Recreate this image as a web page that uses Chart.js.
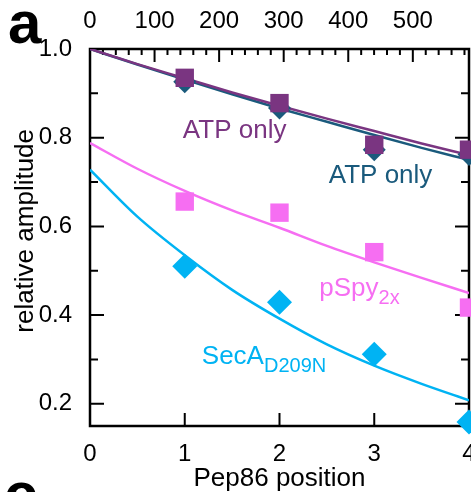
<!DOCTYPE html>
<html>
<head>
<meta charset="utf-8">
<script src="https://cdn.jsdelivr.net/npm/chart.js@4/dist/chart.umd.min.js"></script>
<style>
  html, body { margin: 0; padding: 0; background: #fff; }
  #wrap { width: 471px; height: 492px; position: relative; }
</style>
</head>
<body>
<div id="wrap"><canvas id="chart"></canvas></div>
<script>
// measured positions (Pep86 position)
const positions = [1, 2, 3, 4];
const atpSpy = [0.935, 0.878, 0.784, 0.773];      // ATP only (purple squares)
const atpSecA = [0.926, 0.867, 0.773, 0.762];     // ATP only (teal diamonds)
const pSpy = [0.656, 0.631, 0.542, 0.417];
const secA = [0.51, 0.429, 0.312, 0.159];

const fitX = [0, 0.5, 1, 1.5, 2, 2.5, 3, 3.5, 4];
const atpSpyFit = [1.0, 0.966, 0.934, 0.902, 0.872, 0.843, 0.815, 0.787, 0.761];
const atpSecAFit = [1.0, 0.965, 0.931, 0.898, 0.866, 0.836, 0.806, 0.777, 0.75];
const pSpyFit = [0.788, 0.73, 0.68, 0.636, 0.597, 0.556, 0.519, 0.484, 0.45];
const secAFit = [0.728, 0.622, 0.535, 0.457, 0.392, 0.334, 0.286, 0.245, 0.208];

const purple = "#7a3581";
const teal = "#1a5a7c";
const pink = "#f66ef2";
const cyan = "#00b3f3";
const FONT = "'Liberation Sans', Arial, Helvetica, sans-serif";

function pts(xs, ys) {
    return xs.map((x, i) => ({x: x, y: ys[i]}));
}

function fitLine(ys, color, order) {
    return {
        type: "line",
        data: pts(fitX, ys),
        borderColor: color,
        borderWidth: 2.5,
        pointRadius: 0,
        cubicInterpolationMode: "monotone",
        fill: false,
        order: order
    };
}

function markers(ys, color, style, radius, order) {
    return {
        type: "line",
        data: pts(positions, ys),
        showLine: false,
        pointStyle: style,
        pointRadius: radius,
        pointBackgroundColor: color,
        pointBorderColor: color,
        pointBorderWidth: 0,
        clip: false,
        order: order
    };
}

// no extra label padding inside the scales
function noPad(s) {
    s.paddingLeft = 0;
    s.paddingRight = 0;
    s.paddingTop = 0;
    s.paddingBottom = 0;
}

// frame, inward ticks, y title and in-plot labels
const decorations = {
    id: "decorations",
    beforeDatasetsDraw(chart) {
        const ctx = chart.ctx;
        const a = chart.chartArea;
        const x = chart.scales.x, y = chart.scales.y, x2 = chart.scales.x2;
        ctx.save();
        ctx.strokeStyle = "#000";
        ctx.lineWidth = 2.5;
        ctx.strokeRect(a.left, a.top, a.right - a.left, a.bottom - a.top);
        ctx.lineWidth = 2;
        ctx.beginPath();
        // left + right ticks
        for (let v = 2; v <= 10; v++) {
            const py = y.getPixelForValue(v / 10);
            const len = v % 2 === 0 ? 14 : 8;
            ctx.moveTo(a.left, py); ctx.lineTo(a.left + len, py);
            ctx.moveTo(a.right, py); ctx.lineTo(a.right - len, py);
        }
        // bottom ticks
        for (let v = 1; v <= 3; v++) {
            const px = x.getPixelForValue(v);
            ctx.moveTo(px, a.bottom); ctx.lineTo(px, a.bottom - 13);
        }
        // top ticks
        for (let v = 20; v <= 580; v += 20) {
            const px = x2.getPixelForValue(v);
            const len = v % 100 === 0 ? 13 : 6;
            ctx.moveTo(px, a.top); ctx.lineTo(px, a.top + len);
        }
        ctx.stroke();
        ctx.restore();
    },
    afterDraw(chart) {
        const ctx = chart.ctx;
        const x = chart.scales.x, y = chart.scales.y;
        ctx.save();
        ctx.textBaseline = "alphabetic";
        ctx.textAlign = "left";

        function label(text, sub, dx, dy, color) {
            const px = x.getPixelForValue(dx);
            const py = y.getPixelForValue(dy);
            ctx.fillStyle = color;
            ctx.font = "26px " + FONT;
            ctx.fillText(text, px, py);
            if (sub) {
                const w = ctx.measureText(text).width;
                ctx.font = "20px " + FONT;
                ctx.fillText(sub, px + w, py + 8);
            }
        }
        label("ATP only", null, 0.98, 0.8, purple);
        label("ATP only", null, 2.52, 0.699, teal);
        label("pSpy", "2x", 2.42, 0.442, pink);
        label("SecA", "D209N", 1.18, 0.289, cyan);

        // y axis title
        ctx.save();
        ctx.translate(33, y.getPixelForValue(0.59));
        ctx.rotate(-Math.PI / 2);
        ctx.textAlign = "center";
        ctx.fillStyle = "#000";
        ctx.font = "26px " + FONT;
        ctx.fillText("relative amplitude", 0, 0);
        ctx.restore();

        // panel letters
        ctx.fillStyle = "#000";
        ctx.font = "bold 60px " + FONT;
        ctx.fillText("a", 8, 43);
        ctx.fillText("c", 4, 514);
        ctx.restore();
    }
};

new Chart(document.getElementById("chart"), {
    data: {
        datasets: [
            markers(atpSpy, purple, "rect", 13, 1),
            markers(atpSecA, teal, "rectRot", 11.5, 2),
            markers(pSpy, pink, "rect", 13, 3),
            markers(secA, cyan, "rectRot", 12.5, 4),
            fitLine(atpSpyFit, purple, 5),
            fitLine(atpSecAFit, teal, 6),
            fitLine(pSpyFit, pink, 7),
            fitLine(secAFit, cyan, 8)
        ]
    },
    options: {
        responsive: true,
        maintainAspectRatio: false,
        animation: false,
        layout: { autoPadding: false, padding: { left: 0, right: 2, top: 0, bottom: 0 } },
        plugins: {
            legend: { display: false },
            tooltip: { enabled: false }
        },
        scales: {
            x: {
                type: "linear",
                position: "bottom",
                min: 0,
                max: 4,
                grid: { display: false },
                border: { display: false },
                ticks: {
                    stepSize: 1,
                    padding: 6,
                    color: "#000",
                    font: { family: FONT, size: 24 }
                },
                title: {
                    display: true,
                    text: "Pep86 position",
                    color: "#000",
                    padding: { top: 0, bottom: -2 },
                    font: { family: FONT, size: 26 }
                },
                afterFit: s => { s.height = 66; noPad(s); }
            },
            x2: {
                type: "linear",
                position: "top",
                min: 0,
                max: 587,
                grid: { display: false },
                border: { display: false },
                ticks: {
                    stepSize: 100,
                    includeBounds: false,
                    padding: 5,
                    color: "#000",
                    font: { family: FONT, size: 24 }
                },
                afterFit: s => { s.height = 49; noPad(s); }
            },
            y: {
                type: "linear",
                min: 0.15,
                max: 1.0,
                grid: { display: false },
                border: { display: false },
                ticks: {
                    stepSize: 0.2,
                    includeBounds: false,
                    padding: 10,
                    color: "#000",
                    font: { family: FONT, size: 24 },
                    callback: v => v.toFixed(1)
                },
                afterFit: s => { s.width = 90; noPad(s); }
            }
        }
    },
    plugins: [decorations]
});
</script>
</body>
</html>
